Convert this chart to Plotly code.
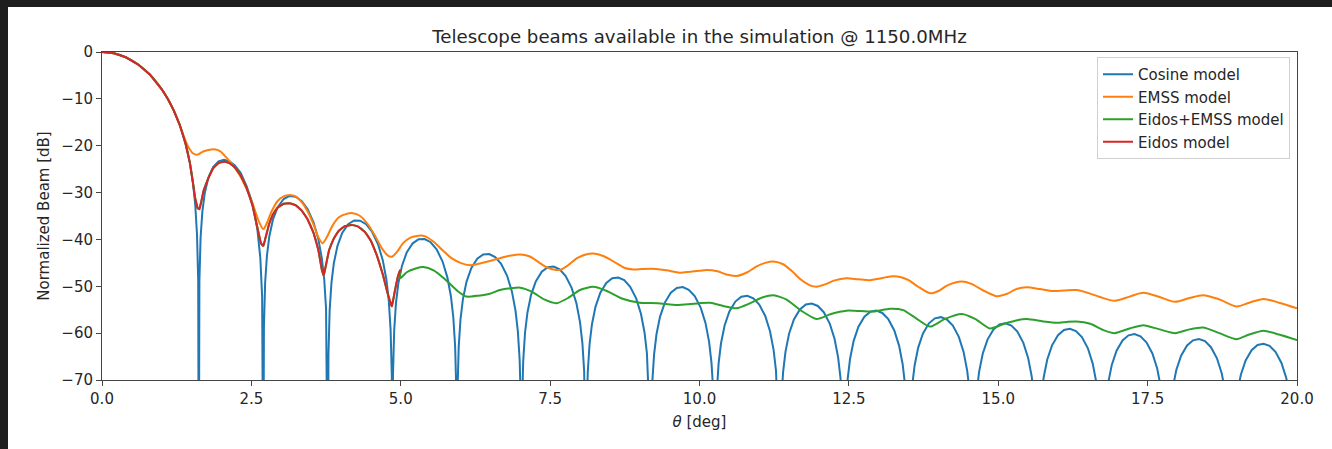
import plotly.graph_objects as go

# ---------------- data ----------------
# Cosine model: main lobe + side lobes; values below -70 dB are clipped by the axis
cos_theta = [
    0.0, 0.2, 0.4, 0.6, 0.8, 1.0, 1.1, 1.2, 1.3, 1.4, 1.47, 1.52, 1.56, 1.59, 1.61, 1.62,
    1.63, 1.65, 1.68, 1.72, 1.78, 1.86, 1.95, 2.04, 2.13, 2.22, 2.32, 2.42, 2.52, 2.60, 2.65, 2.68, 2.70,
    2.71, 2.73, 2.76, 2.80, 2.86, 2.94, 3.04, 3.14, 3.24, 3.34, 3.44, 3.54, 3.62, 3.68, 3.72, 3.75, 3.77, 3.78,
    3.79, 3.81, 3.84, 3.88, 3.94, 4.02, 4.12, 4.22, 4.32, 4.42, 4.52, 4.62, 4.70, 4.76, 4.80, 4.83, 4.85, 4.86,
    4.87, 4.89, 4.92, 4.96, 5.02, 5.10, 5.20, 5.30, 5.40, 5.50, 5.60, 5.70, 5.78, 5.84, 5.88, 5.91, 5.93, 5.94,
    5.95, 5.97, 6.00, 6.04, 6.10, 6.18, 6.28, 6.38, 6.48, 6.58, 6.68, 6.78, 6.86, 6.92, 6.96, 6.99, 7.01, 7.02,
    7.03, 7.05, 7.08, 7.12, 7.18, 7.26, 7.36, 7.46, 7.56, 7.66, 7.76, 7.86, 7.94, 8.00, 8.04, 8.07, 8.09, 8.10,
    8.11, 8.13, 8.16, 8.20, 8.26, 8.34, 8.44, 8.54, 8.64, 8.74, 8.84, 8.94, 9.02, 9.08, 9.12, 9.15, 9.17, 9.18,
    9.19, 9.21, 9.24, 9.28, 9.34, 9.42, 9.52, 9.62, 9.72, 9.82, 9.92, 10.02, 10.10, 10.16, 10.20, 10.23, 10.25, 10.26,
    10.27, 10.29, 10.32, 10.36, 10.42, 10.50, 10.60, 10.70, 10.80, 10.90, 11.00, 11.10, 11.18, 11.24, 11.28, 11.31, 11.33, 11.34,
    11.35, 11.37, 11.40, 11.44, 11.50, 11.58, 11.68, 11.78, 11.88, 11.98, 12.08, 12.18, 12.26, 12.32, 12.36, 12.39, 12.41, 12.42,
    12.43, 12.45, 12.48, 12.52, 12.58, 12.66, 12.76, 12.86, 12.96, 13.06, 13.16, 13.26, 13.34, 13.40, 13.44, 13.47, 13.49, 13.50,
    13.51, 13.53, 13.56, 13.60, 13.66, 13.74, 13.84, 13.94, 14.04, 14.14, 14.24, 14.34, 14.42, 14.48, 14.52, 14.55, 14.57, 14.58,
    14.59, 14.61, 14.64, 14.68, 14.74, 14.82, 14.92, 15.02, 15.12, 15.22, 15.32, 15.42, 15.50, 15.56, 15.60, 15.63, 15.65, 15.66,
    15.67, 15.69, 15.72, 15.76, 15.82, 15.90, 16.00, 16.10, 16.20, 16.30, 16.40, 16.50, 16.58, 16.64, 16.68, 16.71, 16.73, 16.74,
    16.75, 16.77, 16.80, 16.84, 16.90, 16.98, 17.08, 17.18, 17.28, 17.38, 17.48, 17.58, 17.66, 17.72, 17.76, 17.79, 17.81, 17.82,
    17.83, 17.85, 17.88, 17.92, 17.98, 18.06, 18.16, 18.26, 18.36, 18.46, 18.56, 18.66, 18.74, 18.80, 18.84, 18.87, 18.89, 18.90,
    18.91, 18.93, 18.96, 19.00, 19.06, 19.14, 19.24, 19.34, 19.44, 19.54, 19.64, 19.74, 19.82, 19.88, 19.92, 19.95, 19.97, 19.98,
    20.0,
]
cos_db = [
    0.0, -0.28, -1.13, -2.62, -4.80, -7.95, -9.98, -12.45, -15.53, -19.62, -23.6, -27.65, -32.5, -38.9, -48.7, -100,
    -48.9, -39.6, -34.0, -30.07, -26.83, -24.56, -23.35, -23.0, -23.3, -24.16, -25.8, -28.6, -32.4, -37.8, -44.0, -52.2, -100,
    -58.74, -49.34, -43.52, -39.37, -35.80, -33.11, -31.37, -30.71, -30.88, -31.79, -33.51, -36.33, -39.88, -44.09, -48.66, -54.80, -64.48, -100,
    -64.57, -55.13, -49.27, -45.07, -41.42, -38.62, -36.74, -35.96, -35.99, -36.76, -38.36, -41.04, -44.48, -48.61, -53.13, -59.23, -68.87, -100,
    -68.92, -59.46, -53.58, -49.35, -45.65, -42.78, -40.83, -39.96, -39.91, -40.60, -42.11, -44.72, -48.09, -52.17, -56.66, -62.74, -72.36, -100,
    -72.41, -62.93, -57.03, -52.78, -49.05, -46.14, -44.13, -43.21, -43.11, -43.75, -45.21, -47.76, -51.09, -55.14, -59.61, -65.67, -75.27, -100,
    -75.30, -65.82, -59.91, -55.64, -51.89, -48.95, -46.90, -45.94, -45.80, -46.40, -47.82, -50.33, -53.63, -57.66, -62.11, -68.16, -77.76, -100,
    -77.78, -68.29, -62.37, -58.10, -54.33, -51.37, -49.29, -48.30, -48.13, -48.70, -50.09, -52.57, -55.85, -59.86, -64.31, -70.35, -79.94, -100,
    -79.95, -70.46, -64.53, -60.24, -56.46, -53.48, -51.38, -50.37, -50.18, -50.73, -52.10, -54.56, -57.82, -61.82, -66.25, -72.28, -81.87, -100,
    -81.89, -72.39, -66.46, -62.16, -58.37, -55.38, -53.26, -52.23, -52.02, -52.55, -53.90, -56.34, -59.59, -63.58, -68.00, -74.03, -83.61, -100,
    -83.63, -74.12, -68.19, -63.89, -60.08, -57.08, -54.95, -53.90, -53.68, -54.20, -55.53, -57.96, -61.20, -65.17, -69.59, -75.62, -85.19, -100,
    -85.20, -75.70, -69.76, -65.45, -61.64, -58.63, -56.48, -55.43, -55.19, -55.69, -57.02, -59.43, -62.66, -66.63, -71.04, -77.06, -86.64, -100,
    -86.66, -77.15, -71.21, -66.90, -63.08, -60.06, -57.90, -56.84, -56.59, -57.08, -58.40, -60.80, -64.02, -67.98, -72.39, -78.41, -87.98, -100,
    -88.00, -78.48, -72.54, -68.22, -64.40, -61.37, -59.21, -58.13, -57.88, -58.37, -59.67, -62.07, -65.28, -69.24, -73.64, -79.66, -89.22, -100,
    -89.24, -79.72, -73.78, -69.46, -65.63, -62.60, -60.43, -59.34, -59.08, -59.56, -60.85, -63.24, -66.45, -70.40, -74.80, -80.82, -90.38, -100,
    -90.39, -80.88, -74.93, -70.61, -66.78, -63.74, -61.56, -60.47, -60.20, -60.67, -61.96, -64.34, -67.54, -71.49, -75.89, -81.90, -91.47, -100,
    -91.47, -81.96, -76.01, -71.68, -67.85, -64.81, -62.62, -61.53, -61.25, -61.71, -63.00, -65.37, -68.57, -72.52, -76.91, -82.92, -92.49, -100,
    -92.50, -82.98, -77.03, -72.71, -68.87, -65.82, -63.63, -62.53, -62.25, -62.71, -63.99, -66.36, -69.55, -73.50, -77.89, -83.90, -93.46, -100,
    -90.0,
]

# EMSS model
emss_theta = [
    0.0, 0.2, 0.4, 0.6, 0.8, 1.0, 1.1, 1.2, 1.3, 1.4, 1.47, 1.53, 1.60, 1.68, 1.78, 1.90, 1.98, 2.08,
    2.18, 2.30, 2.42, 2.52, 2.62, 2.70, 2.76, 2.84, 2.94, 3.04, 3.14, 3.24, 3.34, 3.44, 3.54, 3.62,
    3.69, 3.76, 3.86, 3.96, 4.08, 4.20, 4.32, 4.44, 4.56, 4.68, 4.78, 4.85, 4.94, 5.04, 5.16, 5.30,
    5.40, 5.55, 5.70, 5.85, 6.00, 6.16, 6.30, 6.49, 6.66, 6.82, 7.00, 7.15, 7.30, 7.45, 7.60, 7.67,
    7.80, 7.95, 8.10, 8.22, 8.40, 8.60, 8.75, 8.89, 9.05, 9.28, 9.45, 9.67, 9.84, 10.00, 10.12, 10.30,
    10.45, 10.62, 10.80, 10.95, 11.10, 11.24, 11.40, 11.55, 11.70, 11.85, 11.96, 12.10, 12.25, 12.46,
    12.65, 12.85, 13.00, 13.19, 13.36, 13.50, 13.65, 13.86, 14.00, 14.15, 14.39, 14.55, 14.75, 14.97,
    15.15, 15.30, 15.48, 15.70, 15.92, 16.10, 16.31, 16.50, 16.70, 16.95, 17.20, 17.43, 17.70, 17.96,
    18.20, 18.43, 18.70, 18.99, 19.20, 19.44, 19.70, 20.0,
]
emss_db = [
    0.0, -0.28, -1.13, -2.62, -4.80, -7.95, -9.98, -12.45, -15.53, -19.0, -20.8, -21.7, -21.9, -21.3, -20.9, -20.8, -21.2, -22.5,
    -24.0, -26.2, -29.2, -32.3, -36.0, -37.8, -36.5, -34.0, -31.8, -30.8, -30.5, -30.8, -32.0, -34.0, -36.8, -39.5,
    -40.8, -39.6, -37.0, -35.3, -34.6, -34.4, -35.0, -36.6, -39.0, -41.8, -43.4, -43.7, -42.6, -40.8, -39.6, -39.2,
    -39.3, -40.5, -42.3, -44.0, -45.0, -45.5, -45.2, -44.6, -44.0, -43.5, -43.2, -43.6, -44.8, -46.0, -46.5, -46.5,
    -45.5, -44.0, -43.2, -43.0, -43.6, -45.0, -46.1, -46.4, -46.3, -46.3, -46.6, -47.1, -46.9, -46.7, -46.5, -46.8,
    -47.5, -47.8, -47.0, -45.8, -45.0, -44.7, -45.3, -46.8, -48.6, -49.8, -50.1, -49.6, -48.8, -48.3,
    -48.5, -48.7, -48.4, -47.9, -48.0, -48.7, -50.0, -51.5, -51.0, -49.8, -49.0, -49.5, -50.9, -52.1,
    -51.6, -50.6, -50.2, -50.6, -51.0, -50.9, -50.8, -51.4, -52.3, -53.1, -52.2, -51.4, -52.3, -53.3,
    -52.5, -51.9, -52.8, -54.3, -53.5, -52.7, -53.5, -54.7,
]

# Eidos model (only up to ~5 deg)
eidos_theta = [
    0.0, 0.2, 0.4, 0.6, 0.8, 1.0, 1.1, 1.2, 1.3, 1.4, 1.47, 1.52, 1.56, 1.60, 1.63, 1.66, 1.70, 1.78,
    1.86, 1.95, 2.05, 2.13, 2.22, 2.32, 2.42, 2.52, 2.60, 2.66, 2.70, 2.74, 2.80, 2.86, 2.94, 3.04,
    3.14, 3.24, 3.34, 3.44, 3.54, 3.62, 3.68, 3.71, 3.75, 3.80, 3.88, 3.96, 4.06, 4.18, 4.28, 4.40,
    4.50, 4.60, 4.70, 4.78, 4.85, 4.90, 4.95, 4.99,
]
eidos_db = [
    0.0, -0.28, -1.13, -2.62, -4.80, -7.95, -9.98, -12.45, -15.53, -19.62, -23.6, -27.6, -31.2, -33.3, -33.5, -32.0, -29.6, -26.9,
    -24.8, -23.7, -23.4, -23.7, -24.6, -26.3, -29.0, -32.8, -37.5, -40.8, -41.4, -39.5, -36.6, -34.7, -33.2, -32.4,
    -32.3, -32.7, -33.8, -35.7, -38.6, -42.2, -46.5, -47.7, -45.5, -42.3, -39.8, -38.2, -37.2, -36.9, -37.2, -38.4,
    -40.3, -43.4, -47.5, -51.5, -54.3, -51.0, -48.0, -46.5,
]

# Eidos+EMSS model beyond 5 deg (below 5 deg it equals the Eidos model)
eidos_emss_tail_theta = [
    4.99, 5.10, 5.25, 5.38, 5.55, 5.75, 5.95, 6.10, 6.30, 6.49, 6.66, 6.85, 7.00, 7.20, 7.40, 7.61,
    7.80, 8.00, 8.22, 8.45, 8.70, 9.00, 9.30, 9.62, 9.84, 10.00, 10.18, 10.40, 10.62, 10.85, 11.05, 11.24,
    11.45, 11.70, 11.96, 12.20, 12.46, 12.70, 12.91, 13.19, 13.41, 13.62, 13.86, 14.10, 14.39, 14.62, 14.86,
    15.10, 15.30, 15.48, 15.75, 15.98, 16.15, 16.31, 16.54, 16.75, 16.95, 17.20, 17.43, 17.70, 17.96, 18.20,
    18.43, 18.70, 18.99, 19.20, 19.44, 19.70, 20.0,
]
eidos_emss_tail_db = [
    -48.3, -47.0, -46.2, -45.9, -46.6, -48.6, -51.0, -52.2, -52.0, -51.6, -50.8, -50.4, -50.3, -51.2, -52.8, -53.6,
    -52.5, -50.8, -50.1, -51.0, -52.6, -53.5, -53.6, -54.0, -53.8, -53.6, -53.5, -54.2, -54.7, -53.6, -52.4, -51.9,
    -52.8, -55.2, -57.0, -55.9, -55.2, -55.3, -55.4, -54.8, -55.1, -56.8, -58.6, -57.0, -55.9, -57.0, -59.0,
    -58.0, -57.3, -57.0, -57.5, -57.8, -57.6, -57.5, -58.0, -59.3, -60.0, -59.0, -58.3, -59.2, -60.0, -59.2,
    -58.8, -60.0, -61.3, -60.3, -59.5, -60.3, -61.5,
]

x_tick_vals = [0.0, 2.5, 5.0, 7.5, 10.0, 12.5, 15.0, 17.5, 20.0]
x_tick_text = ["0.0", "2.5", "5.0", "7.5", "10.0", "12.5", "15.0", "17.5", "20.0"]
y_tick_vals = [0, -10, -20, -30, -40, -50, -60, -70]
y_tick_text = ["0", "\u221210", "\u221220", "\u221230", "\u221240", "\u221250", "\u221260", "\u221270"]

# ---------------- figure ----------------
W, H = 1332, 449
L, R, T, B = 102, 35, 52, 69
FONT = "DejaVu Sans"
TXT = "#262626"
FS = 15
FS_TITLE = 18.2

fig = go.Figure()
fig.add_trace(go.Scatter(x=cos_theta, y=cos_db, mode="lines", name="Cosine model",
                         line=dict(color="#1f77b4", width=2)))
fig.add_trace(go.Scatter(x=emss_theta, y=emss_db, mode="lines", name="EMSS model",
                         line=dict(color="#ff7f0e", width=2, shape="spline", smoothing=0.8)))
fig.add_trace(go.Scatter(x=eidos_theta + eidos_emss_tail_theta, y=eidos_db + eidos_emss_tail_db,
                         mode="lines", name="Eidos+EMSS model",
                         line=dict(color="#2ca02c", width=2, shape="spline", smoothing=0.6)))
fig.add_trace(go.Scatter(x=eidos_theta, y=eidos_db, mode="lines", name="Eidos model",
                         line=dict(color="#d62728", width=2)))

axis_common = dict(showgrid=False, zeroline=False, showline=True, linecolor="#444", linewidth=1,
                   mirror=True, ticks="outside", ticklen=5, tickwidth=1, tickcolor="#444",
                   tickfont=dict(family=FONT, size=FS, color=TXT))

fig.update_layout(
    width=W, height=H, autosize=False,
    margin=dict(l=L, r=R, t=T, b=B, pad=0),
    paper_bgcolor="white", plot_bgcolor="white",
    title=dict(text="Telescope beams available in the simulation @ 1150.0MHz",
               x=0.5, xref="paper", xanchor="center",
               y=1 - 37 / H, yref="container", yanchor="middle",
               font=dict(family=FONT, size=FS_TITLE, color=TXT)),
    xaxis=dict(range=[0, 20], tickvals=x_tick_vals, ticktext=x_tick_text,
               title=dict(text="<i>θ</i> [deg]", standoff=9,
                          font=dict(family=FONT, size=FS, color=TXT)),
               **axis_common),
    yaxis=dict(range=[-70, 0], tickvals=y_tick_vals, ticktext=y_tick_text,
               title=dict(text="Normalized Beam [dB]", standoff=8,
                          font=dict(family=FONT, size=FS, color=TXT)),
               **axis_common),
    legend=dict(x=(1290 - L) / (W - L - R), xanchor="right",
                y=(H - B - 57) / (H - T - B), yanchor="top",
                bgcolor="rgba(255,255,255,0.85)", bordercolor="#d0d0d0", borderwidth=1,
                font=dict(family=FONT, size=FS, color=TXT), tracegroupgap=0),
    showlegend=True,
)

# dark frame of the screenshot (top and left bands)
pw, ph = W - L - R, H - T - B
fig.add_shape(type="rect", xref="paper", yref="paper",
              x0=-L / pw, x1=(8 - L) / pw, y0=-B / ph, y1=(H - B) / ph,
              fillcolor="#1e1e1e", line=dict(width=0), layer="above")
fig.add_shape(type="rect", xref="paper", yref="paper",
              x0=-L / pw, x1=(W - L) / pw, y0=(H - B - 7) / ph, y1=(H - B) / ph,
              fillcolor="#1e1e1e", line=dict(width=0), layer="above")

fig.write_html("out.html")
